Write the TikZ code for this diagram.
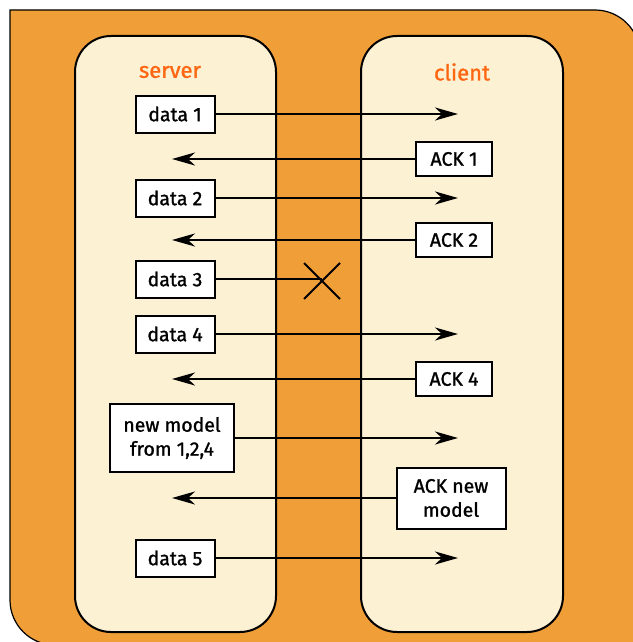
\documentclass[tikz,border=0pt]{standalone}
\usepackage{fontspec}
\setmainfont{Fira Sans}[FakeBold=1.2]
\usetikzlibrary{arrows.meta}
\definecolor{bgorange}{RGB}{240,158,56}
\definecolor{lanefill}{RGB}{253,241,212}
\definecolor{titleorange}{RGB}{255,102,17}
\tikzset{
  lanebox/.style={draw,fill=lanefill,line width=2pt,rounded corners=36pt},
  msgbox/.style={draw,fill=white,line width=2pt,align=center,inner sep=0pt,
    font=\fontsize{19.5}{24}\selectfont},
  lanetitle/.style={text=titleorange,font=\fontsize{22}{26}\selectfont},
  msg/.style={line width=2pt,-{Stealth[length=23pt,width=13pt,inset=7pt]}}
}
\begin{document}
\begin{tikzpicture}[x=1pt,y=-1pt]
        \useasboundingbox (0,0) rectangle (632,642);
        %sfondo arancione
        \draw[fill=bgorange,line width=1.2pt] (10,10) -- (595,10) arc[start angle=-90,end angle=0,radius=45]
              -- (640,660) -- (55,660) -- (55,645) arc[start angle=90,end angle=180,radius=45] -- cycle;
        %corsie server e client
        \draw[lanebox] (75,36) rectangle (276,632);
        \draw[lanebox] (361,36) rectangle (563,632);
        \node[lanetitle] (server) at (170,72) {server};
        \node[lanetitle] (client) at (462,72) {client};

        %punte delle frecce
        \coordinate (rtip) at (458,0);
        \coordinate (ltip) at (172,0);
        \coordinate (lost) at (322,281);

        %messaggi del server
        \node[msgbox,minimum width=79,minimum height=37] (d1) at (175,114) {data 1};
        \node[msgbox,minimum width=79,minimum height=37] (d2) at (175,198) {data 2};
        \node[msgbox,minimum width=79,minimum height=37] (d3) at (175,279) {data 3};
        \node[msgbox,minimum width=79,minimum height=37] (d4) at (175,334) {data 4};
        \node[msgbox,minimum width=124,minimum height=68] (nm) at (172,438) {new model\\from 1,2,4};
        \node[msgbox,minimum width=79,minimum height=37] (d5) at (175,558) {data 5};

        %risposte del client
        \node[msgbox,minimum width=76,minimum height=34] (a1) at (454,159) {ACK 1};
        \node[msgbox,minimum width=76,minimum height=34] (a2) at (454,240) {ACK 2};
        \node[msgbox,minimum width=76,minimum height=34] (a4) at (454,379) {ACK 4};
        \node[msgbox,minimum width=109,minimum height=61] (anm) at (451,498) {ACK new\\model};

        %frecce verso il client
        \draw[msg] (d1) -- (d1 -| rtip);
        \draw[msg] (d2) -- (d2 -| rtip);
        \draw[msg] (d4) -- (d4 -| rtip);
        \draw[msg] (nm) -- (nm -| rtip);
        \draw[msg] (d5) -- (d5 -| rtip);
        %frecce verso il server
        \draw[msg] (a1) -- (a1 -| ltip);
        \draw[msg] (a2) -- (a2 -| ltip);
        \draw[msg] (a4) -- (a4 -| ltip);
        \draw[msg] (anm) -- (anm -| ltip);

        %pacchetto perso
        \draw[line width=2pt] (d3) -- (d3 -| lost);
        \draw[line width=2pt] (lost) +(-18,-18) -- +(18,18) +(-18,18) -- +(18,-18);
\end{tikzpicture}
\end{document}
